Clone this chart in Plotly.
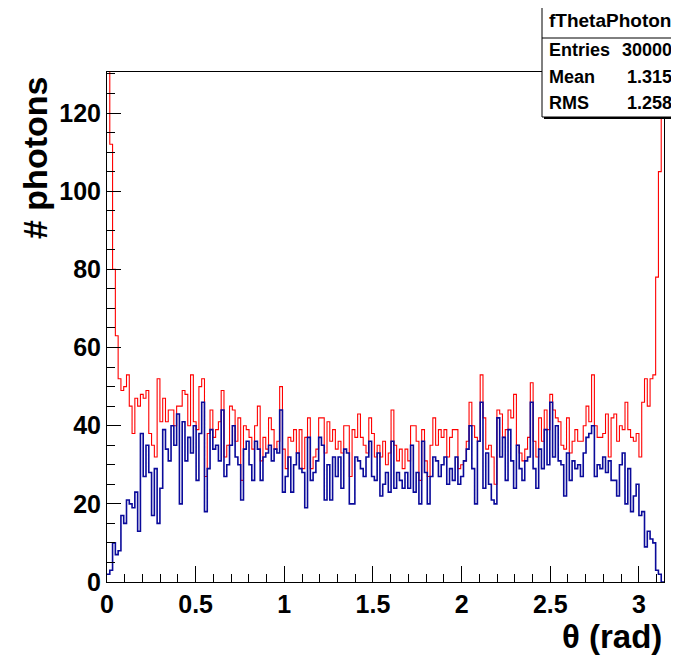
import numpy as np
import plotly.graph_objects as go

n_bins = 200
theta_min = 0.0
theta_max = np.pi

red_counts = [
    140, 112, 80, 63, 52, 49, 50, 53, 45, 38, 47, 45, 48, 47, 49, 38, 35, 32, 52, 41,
    47, 41, 44, 44, 40, 45, 45, 49, 48, 40, 53, 41, 39, 50, 52, 27, 38, 44, 37, 39,
    41, 49, 32, 35, 45, 44, 36, 42, 26, 40, 39, 37, 34, 40, 45, 31, 37, 34, 42, 39,
    34, 36, 50, 34, 29, 37, 36, 39, 33, 39, 29, 37, 42, 29, 32, 34, 42, 42, 33, 41,
    36, 39, 34, 36, 33, 40, 40, 27, 39, 37, 43, 37, 35, 33, 42, 38, 32, 35, 32, 36,
    30, 33, 44, 35, 31, 34, 29, 34, 31, 40, 40, 36, 26, 39, 31, 27, 35, 42, 35, 39,
    37, 39, 32, 37, 39, 39, 29, 30, 31, 36, 46, 40, 37, 36, 53, 42, 34, 35, 32, 25,
    44, 43, 37, 39, 44, 42, 48, 35, 33, 31, 34, 37, 51, 36, 32, 42, 36, 44, 39, 48,
    44, 42, 41, 35, 34, 42, 33, 36, 39, 36, 36, 40, 45, 41, 53, 40, 37, 37, 38, 43,
    32, 42, 43, 36, 40, 39, 46, 39, 37, 36, 38, 32, 46, 52, 45, 52, 53, 78, 105, 128,
]

blue_counts = [
    2, 3, 10, 7, 8, 17, 15, 21, 20, 19, 23, 13, 38, 27, 35, 28, 17, 29, 15, 24,
    39, 34, 31, 40, 35, 43, 20, 41, 31, 37, 33, 40, 26, 38, 46, 18, 29, 39, 34, 35,
    31, 44, 27, 30, 35, 40, 32, 30, 21, 34, 36, 30, 26, 36, 34, 26, 32, 33, 35, 31,
    34, 33, 44, 23, 27, 32, 23, 30, 33, 29, 28, 19, 37, 26, 28, 31, 37, 35, 21, 30,
    21, 32, 27, 32, 24, 34, 33, 20, 20, 32, 31, 29, 27, 32, 36, 27, 26, 33, 22, 25,
    28, 23, 36, 24, 28, 26, 24, 28, 24, 35, 23, 28, 20, 36, 28, 20, 27, 32, 31, 27,
    30, 32, 25, 29, 26, 32, 25, 27, 31, 34, 40, 29, 20, 36, 46, 24, 33, 25, 21, 20,
    42, 32, 37, 26, 39, 31, 24, 35, 29, 26, 31, 32, 46, 29, 24, 34, 29, 39, 30, 46,
    32, 40, 31, 30, 22, 33, 26, 31, 29, 30, 27, 33, 37, 38, 40, 27, 30, 29, 32, 28,
    31, 26, 26, 22, 30, 33, 20, 29, 18, 22, 25, 17, 18, 9, 13, 11, 10, 3, 2, 0,
]

x_tick_vals = [0, 0.5, 1, 1.5, 2, 2.5, 3]
x_tick_text = ["0", "0.5", "1", "1.5", "2", "2.5", "3"]
y_tick_vals = [0, 20, 40, 60, 80, 100, 120]
y_tick_text = ["0", "20", "40", "60", "80", "100", "120"]

stats_title = "fThetaPhoton"
stats_labels = ["Entries", "Mean", "RMS"]
stats_values = ["30000", "1.315", "1.258"]

edges = np.linspace(theta_min, theta_max, n_bins + 1)


def step_xy(counts):
    xs = list(edges)
    ys = list(counts) + [counts[-1]]
    return xs, ys


fig = go.Figure()
rx, ry = step_xy(red_counts)
bx, by = step_xy(blue_counts)
fig.add_trace(go.Scatter(x=rx, y=ry, mode="lines", line=dict(color="#ff0000", width=1.1, shape="hv"),
                         showlegend=False, hoverinfo="skip"))
fig.add_trace(go.Scatter(x=bx, y=by, mode="lines", line=dict(color="#0a0a9a", width=1.6, shape="hv"),
                         showlegend=False, hoverinfo="skip"))

FONT = "Liberation Sans, Arial, sans-serif"
OFF = 8  # page body margin in the browser
W, H = 679 - OFF, 656 - OFF
# target pixel positions in the window
L, R, T, B = 107, 664, 72, 582


def px_x(p):
    return (p - L) / (R - L)


def px_y(p):
    return (B - p) / (B - T)


fig.update_layout(
    width=W, height=H,
    margin=dict(l=L - OFF, r=W - (R - OFF), t=T - OFF, b=H - (B - OFF)),
    paper_bgcolor="white", plot_bgcolor="white",
    font=dict(family=FONT, color="black"),
    xaxis=dict(
        range=[theta_min, theta_max], tickvals=x_tick_vals, ticktext=x_tick_text,
        ticks="inside", ticklen=16, tickwidth=1, tickcolor="black",
        minor=dict(dtick=0.1, ticks="inside", ticklen=8, tickwidth=1, tickcolor="black", showgrid=False),
        showline=True, linecolor="black", linewidth=1, mirror=True,
        showgrid=False, zeroline=False,
        tickfont=dict(family=FONT, size=25, color="black", weight="bold"),
    ),
    yaxis=dict(
        range=[0, 130.5], tickvals=y_tick_vals, ticktext=y_tick_text,
        ticks="inside", ticklen=14, tickwidth=1, tickcolor="black",
        minor=dict(dtick=5, ticks="inside", ticklen=8, tickwidth=1, tickcolor="black", showgrid=False),
        showline=True, linecolor="black", linewidth=1, mirror=True,
        showgrid=False, zeroline=False,
        tickfont=dict(family=FONT, size=25, color="black", weight="bold"),
    ),
)

# axis titles
fig.add_annotation(text="θ (rad)", xref="paper", yref="paper", x=px_x(664), y=px_y(636),
                   xanchor="right", yanchor="middle", showarrow=False,
                   font=dict(family=FONT, size=33, color="black", weight="bold"))
fig.add_annotation(text="# photons", xref="paper", yref="paper", x=px_x(35), y=px_y(158),
                   xanchor="center", yanchor="middle", textangle=-90, showarrow=False,
                   font=dict(family=FONT, size=34, color="black", weight="bold"))

# stats box
bx0, bx1, by0, by1 = 542, 677, 5, 117
fig.add_shape(type="rect", xref="paper", yref="paper", x0=px_x(bx0 + 2), x1=px_x(bx1 + 2),
              y0=px_y(by0 + 2), y1=px_y(by1 + 2), fillcolor="black", line=dict(width=0), layer="above")
fig.add_shape(type="rect", xref="paper", yref="paper", x0=px_x(bx0), x1=px_x(bx1),
              y0=px_y(by0), y1=px_y(by1), fillcolor="white", line=dict(color="black", width=1), layer="above")
fig.add_shape(type="line", xref="paper", yref="paper", x0=px_x(bx0), x1=px_x(bx1),
              y0=px_y(38), y1=px_y(38), line=dict(color="black", width=1), layer="above")
fig.add_annotation(text=stats_title, xref="paper", yref="paper", x=px_x((bx0 + bx1) / 2), y=px_y(21),
                   xanchor="center", yanchor="middle", showarrow=False,
                   font=dict(family=FONT, size=19, color="black", weight="bold"))
row_y = [50, 77, 103]
for lab, val, yy in zip(stats_labels, stats_values, row_y):
    fig.add_annotation(text=lab, xref="paper", yref="paper", x=px_x(547), y=px_y(yy),
                       xanchor="left", yanchor="middle", showarrow=False,
                       font=dict(family=FONT, size=18, color="black", weight="bold"))
    fig.add_annotation(text=val, xref="paper", yref="paper", x=px_x(674), y=px_y(yy),
                       xanchor="right", yanchor="middle", showarrow=False,
                       font=dict(family=FONT, size=18, color="black", weight="bold"))

fig.write_html("out.html")
